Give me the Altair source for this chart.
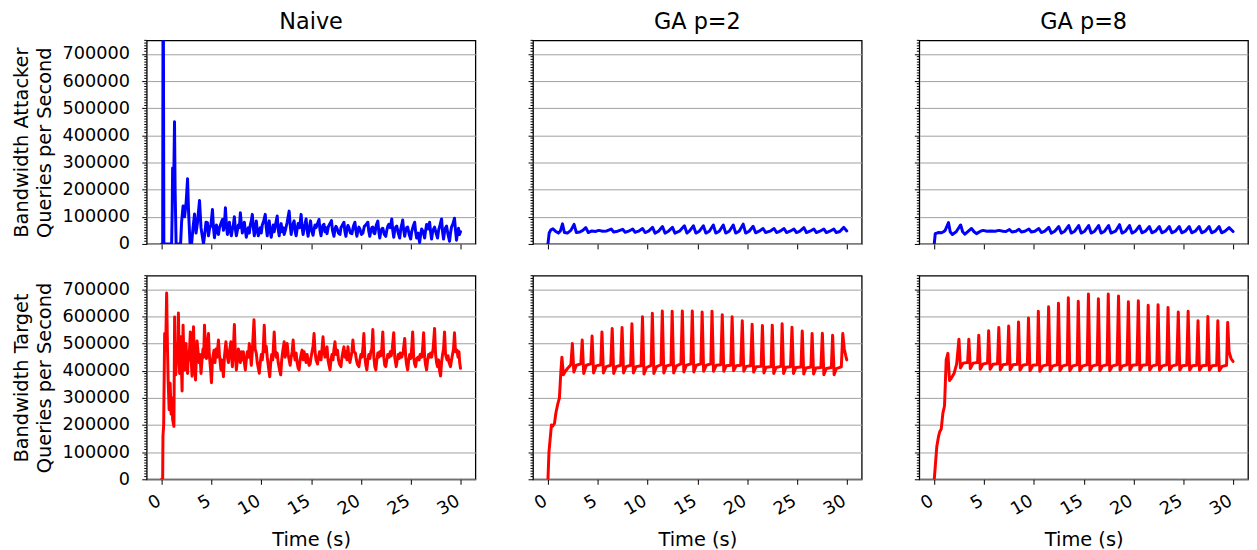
import altair as alt
import pandas as pd

FONT = "DejaVu Sans"
X_TICKS = [0, 5, 10, 15, 20, 25, 30]
Y_MAJOR = [0, 100000, 200000, 300000, 400000, 500000, 600000, 700000]
Y_MINOR = [v for v in range(0, 750001, 10000) if v % 100000 != 0]
COL_TITLES = ["Naive", "GA p=2", "GA p=8"]
ROW_TITLES = [["Bandwidth Attacker", "Queries per Second"],
              ["Bandwidth Target", "Queries per Second"]]
ROW_COLORS = ["#0000ff", "#ff0000"]

# (time s, value in thousands of queries/s)
naive_attacker = [
    (0.0, 0), (0.1, 0), (0.15, 1200), (0.22, 0), (0.6, 0), (1.0, 0), (1.06, 130), (1.1, 280), (1.2, 200),
    (1.29, 450), (1.35, 200), (1.45, 0), (1.9, 0), (2.0, 80), (2.15, 140), (2.3, 100), (2.45, 150),
    (2.6, 240), (2.7, 120), (2.85, 0), (3.0, 0), (3.15, 60), (3.3, 110), (3.45, 40), (3.6, 80),
    (3.8, 160), (3.95, 60), (4.2, 0), (4.35, 45), (4.45, 80), (4.6, 78), (4.7, 30), (4.8, 55),
    (4.95, 70), (5.1, 127), (5.2, 60), (5.3, 23), (5.4, 50), (5.5, 70), (5.6, 45), (5.7, 35),
    (5.8, 60), (5.95, 75), (6.1, 90), (6.2, 50), (6.3, 70), (6.4, 133), (6.5, 70), (6.6, 35),
    (6.7, 60), (6.8, 80), (6.9, 45), (7.0, 30), (7.1, 55), (7.2, 70), (7.3, 100), (7.4, 55),
    (7.5, 30), (7.6, 50), (7.7, 70), (7.8, 60), (7.9, 115), (8.0, 75), (8.1, 40), (8.2, 60),
    (8.3, 80), (8.4, 50), (8.5, 25), (8.6, 45), (8.7, 60), (8.8, 40), (8.9, 70), (9.0, 85),
    (9.1, 109), (9.2, 60), (9.3, 30), (9.4, 55), (9.5, 85), (9.6, 50), (9.7, 30), (9.8, 45),
    (9.9, 60), (10.0, 40), (10.1, 70), (10.25, 85), (10.4, 109), (10.5, 60), (10.6, 30), (10.7, 65),
    (10.8, 85), (10.9, 45), (11.0, 25), (11.1, 50), (11.2, 70), (11.3, 45), (11.45, 75), (11.6, 103),
    (11.7, 55), (11.8, 30), (11.9, 60), (12.0, 75), (12.1, 45), (12.2, 60), (12.3, 35), (12.45, 55),
    (12.6, 80), (12.8, 121), (12.9, 70), (13.0, 35), (13.1, 60), (13.2, 75), (13.3, 85), (13.4, 45),
    (13.5, 30), (13.6, 55), (13.7, 75), (13.85, 60), (14.0, 109), (14.1, 60), (14.2, 35), (14.3, 60),
    (14.4, 75), (14.5, 92), (14.6, 50), (14.7, 28), (14.8, 55), (14.95, 85), (15.05, 50), (15.2, 32),
    (15.3, 55), (15.4, 70), (15.5, 60), (15.65, 75), (15.8, 90), (15.9, 50), (16.0, 30), (16.1, 55),
    (16.2, 70), (16.3, 72), (16.4, 45), (16.5, 60), (16.6, 38), (16.75, 65), (16.9, 75), (17.05, 86),
    (17.15, 50), (17.3, 28), (17.4, 55), (17.5, 65), (17.6, 58), (17.75, 40), (17.9, 35), (18.0, 60),
    (18.15, 70), (18.3, 80), (18.4, 45), (18.5, 28), (18.6, 55), (18.7, 68), (18.8, 60), (18.95, 40),
    (19.1, 38), (19.25, 65), (19.4, 80), (19.5, 50), (19.6, 28), (19.7, 50), (19.8, 62), (19.9, 55),
    (20.05, 35), (20.2, 40), (20.35, 65), (20.5, 70), (20.7, 80), (20.8, 45), (20.9, 28), (21.0, 50),
    (21.1, 60), (21.2, 62), (21.3, 40), (21.4, 38), (21.55, 70), (21.7, 84), (21.8, 45), (21.9, 22),
    (22.0, 45), (22.1, 55), (22.2, 58), (22.35, 35), (22.5, 28), (22.6, 50), (22.7, 65), (22.8, 72),
    (22.95, 60), (23.1, 92), (23.2, 50), (23.3, 25), (23.4, 50), (23.5, 62), (23.6, 66), (23.75, 40),
    (23.9, 22), (24.0, 55), (24.1, 70), (24.2, 88), (24.3, 50), (24.4, 28), (24.5, 50), (24.6, 60),
    (24.7, 62), (24.85, 35), (25.0, 18), (25.1, 45), (25.25, 65), (25.4, 80), (25.5, 45), (25.6, 22),
    (25.75, 40), (25.9, 5), (26.0, 35), (26.1, 55), (26.25, 45), (26.4, 22), (26.5, 50), (26.6, 72),
    (26.75, 55), (26.9, 80), (27.0, 45), (27.1, 18), (27.2, 45), (27.3, 55), (27.4, 62), (27.55, 40),
    (27.7, 22), (27.8, 50), (27.95, 70), (28.1, 92), (28.2, 45), (28.3, 18), (28.4, 45), (28.5, 60),
    (28.6, 66), (28.75, 35), (28.9, 10), (29.0, 40), (29.1, 62), (29.25, 75), (29.4, 95), (29.5, 50),
    (29.6, 14), (29.7, 40), (29.8, 58), (29.9, 35), (30.0, 45),
]

ga2_attacker = [
    (0.0, 0), (0.12, 40), (0.3, 52), (0.5, 56), (0.75, 47), (1.05, 40), (1.25, 48), (1.46, 74),
    (1.65, 42), (1.95, 40), (2.3, 50), (2.62, 72), (2.85, 42), (3.2, 44), (3.5, 50), (3.8, 60),
    (4.05, 42), (4.4, 48), (4.8, 46), (5.1, 50), (5.5, 47), (5.9, 48), (6.35, 55), (6.6, 44),
    (7.0, 47), (7.5, 54), (7.75, 43), (8.1, 47), (8.5, 55), (8.75, 43), (9.1, 47), (9.5, 57),
    (9.75, 42), (10.1, 47), (10.5, 61), (10.75, 40), (11.1, 47), (11.5, 64), (11.75, 40), (12.1, 47),
    (12.5, 61), (12.75, 40), (13.2, 47), (13.7, 67), (13.95, 40), (14.2, 47), (14.6, 67), (14.85, 40),
    (15.2, 47), (15.6, 67), (15.85, 40), (16.2, 47), (16.6, 70), (16.85, 40), (17.2, 47), (17.6, 70),
    (17.85, 40), (18.2, 47), (18.6, 70), (18.85, 40), (19.2, 47), (19.6, 73), (19.85, 40), (20.2, 47),
    (20.6, 65), (20.85, 41), (21.2, 47), (21.6, 57), (21.85, 42), (22.3, 47), (22.7, 57), (22.95, 42),
    (23.3, 47), (23.7, 57), (23.95, 42), (24.3, 47), (24.7, 55), (24.95, 42), (25.3, 47), (25.7, 60),
    (25.95, 42), (26.3, 47), (26.7, 55), (26.95, 42), (27.3, 47), (27.7, 55), (27.95, 42), (28.3, 47),
    (28.7, 55), (28.95, 42), (29.3, 46), (29.7, 61), (30.0, 48),
]

ga8_attacker = [
    (0.0, 0), (0.1, 38), (0.4, 42), (0.7, 41), (0.93, 45), (1.1, 50), (1.43, 79), (1.6, 45),
    (1.82, 35), (2.2, 45), (2.65, 70), (2.85, 45), (3.08, 36), (3.4, 46), (3.74, 57), (4.0, 45),
    (4.24, 38), (4.6, 46), (4.9, 50), (5.3, 47), (5.7, 48), (6.1, 47), (6.5, 50), (6.9, 47),
    (7.2, 46), (7.55, 53), (7.8, 44), (8.2, 47), (8.5, 54), (8.75, 44), (9.1, 47), (9.5, 55),
    (9.75, 44), (10.1, 47), (10.5, 57), (10.75, 42), (11.1, 47), (11.5, 61), (11.75, 40), (12.1, 47),
    (12.5, 64), (12.75, 40), (13.1, 47), (13.5, 68), (13.75, 40), (14.1, 47), (14.5, 68), (14.75, 40),
    (15.1, 47), (15.5, 68), (15.75, 40), (16.1, 47), (16.5, 68), (16.75, 40), (17.1, 47), (17.5, 68),
    (17.75, 40), (18.2, 47), (18.6, 71), (18.85, 40), (19.2, 47), (19.6, 68), (19.85, 40), (20.2, 47),
    (20.6, 66), (20.85, 41), (21.2, 47), (21.6, 64), (21.85, 41), (22.2, 47), (22.6, 64), (22.85, 41),
    (23.2, 47), (23.6, 64), (23.85, 41), (24.2, 47), (24.6, 64), (24.85, 41), (25.2, 47), (25.6, 64),
    (25.85, 41), (26.2, 47), (26.6, 64), (26.85, 41), (27.2, 47), (27.6, 64), (27.85, 41), (28.2, 47),
    (28.6, 64), (28.85, 41), (29.2, 47), (29.6, 60), (30.0, 46),
]

naive_target = [
    (0.0, 0), (0.1, 0), (0.13, 159), (0.2, 200), (0.3, 537), (0.4, 476), (0.5, 686), (0.58, 488),
    (0.65, 366), (0.75, 256), (0.85, 354), (0.95, 240), (1.05, 300), (1.1, 220), (1.23, 195), (1.3, 598),
    (1.36, 420), (1.42, 385), (1.55, 500), (1.62, 440), (1.68, 613), (1.75, 450), (1.8, 390), (1.92, 525),
    (1.98, 420), (2.05, 325), (2.15, 568), (2.22, 460), (2.3, 403), (2.38, 470), (2.45, 500), (2.52, 430),
    (2.6, 390), (2.68, 470), (2.75, 440), (2.88, 543), (2.95, 450), (3.05, 380), (3.12, 480), (3.2, 562),
    (3.28, 430), (3.4, 366), (3.48, 450), (3.55, 510), (3.65, 470), (3.75, 430), (3.85, 460), (3.95, 390),
    (4.05, 440), (4.15, 480), (4.22, 450), (4.3, 568), (4.4, 480), (4.5, 445), (4.6, 500), (4.7, 537),
    (4.78, 460), (4.85, 430), (4.92, 400), (5.0, 356), (5.1, 440), (5.25, 475), (5.35, 430), (5.45, 480),
    (5.55, 450), (5.7, 513), (5.8, 460), (5.95, 403), (6.05, 440), (6.2, 378), (6.3, 450), (6.45, 507),
    (6.55, 460), (6.7, 430), (6.8, 470), (6.95, 507), (7.02, 450), (7.1, 415), (7.2, 480), (7.3, 570),
    (7.4, 460), (7.5, 403), (7.6, 440), (7.7, 480), (7.8, 460), (7.9, 430), (8.0, 470), (8.1, 440),
    (8.2, 470), (8.3, 430), (8.4, 403), (8.5, 440), (8.6, 470), (8.7, 450), (8.8, 500), (8.9, 460),
    (9.0, 420), (9.1, 470), (9.27, 588), (9.38, 480), (9.5, 465), (9.6, 430), (9.7, 410), (9.8, 391),
    (9.9, 430), (10.0, 460), (10.1, 440), (10.2, 480), (10.3, 568), (10.4, 470), (10.5, 490), (10.6, 450),
    (10.7, 420), (10.85, 378), (10.95, 430), (11.05, 460), (11.15, 440), (11.3, 543), (11.4, 470), (11.5, 450),
    (11.6, 465), (11.7, 430), (11.85, 400), (11.95, 385), (12.05, 440), (12.15, 470), (12.3, 507), (12.4, 450),
    (12.5, 480), (12.6, 500), (12.7, 460), (12.8, 440), (12.9, 420), (13.0, 450), (13.1, 470), (13.2, 513),
    (13.3, 460), (13.4, 440), (13.5, 465), (13.6, 430), (13.7, 410), (13.8, 403), (13.9, 440), (14.0, 460),
    (14.1, 476), (14.2, 440), (14.3, 470), (14.4, 450), (14.5, 430), (14.6, 460), (14.7, 440), (14.8, 420),
    (14.9, 425), (15.0, 450), (15.1, 470), (15.2, 490), (15.3, 537), (15.4, 470), (15.5, 440), (15.65, 425),
    (15.75, 450), (15.85, 470), (16.0, 440), (16.1, 480), (16.2, 525), (16.3, 470), (16.4, 450), (16.5, 470),
    (16.6, 488), (16.7, 440), (16.8, 420), (16.9, 403), (17.0, 440), (17.1, 460), (17.2, 440), (17.3, 480),
    (17.4, 507), (17.5, 460), (17.65, 476), (17.75, 440), (17.85, 425), (18.0, 415), (18.1, 450), (18.2, 470),
    (18.3, 488), (18.4, 450), (18.5, 470), (18.6, 440), (18.7, 488), (18.8, 450), (18.9, 430), (19.0, 450),
    (19.1, 470), (19.2, 513), (19.3, 470), (19.45, 465), (19.55, 440), (19.65, 425), (19.8, 415), (19.9, 440),
    (20.0, 460), (20.1, 450), (20.2, 480), (20.3, 537), (20.4, 450), (20.5, 420), (20.6, 403), (20.7, 440),
    (20.8, 460), (20.9, 445), (21.0, 470), (21.1, 480), (21.2, 552), (21.3, 450), (21.4, 415), (21.5, 403),
    (21.6, 440), (21.7, 465), (21.8, 450), (21.9, 470), (22.0, 455), (22.1, 480), (22.2, 543), (22.3, 450),
    (22.4, 420), (22.5, 415), (22.6, 440), (22.7, 460), (22.85, 450), (22.95, 470), (23.05, 455), (23.15, 480),
    (23.3, 540), (23.4, 450), (23.55, 415), (23.65, 440), (23.75, 460), (23.85, 445), (23.95, 465), (24.1, 450),
    (24.25, 470), (24.4, 519), (24.5, 450), (24.6, 420), (24.7, 403), (24.8, 440), (24.9, 460), (25.0, 445),
    (25.1, 480), (25.2, 543), (25.3, 450), (25.4, 425), (25.5, 415), (25.6, 445), (25.75, 450), (25.85, 440),
    (25.95, 460), (26.1, 450), (26.2, 480), (26.3, 540), (26.4, 450), (26.5, 420), (26.6, 403), (26.7, 440),
    (26.8, 460), (26.9, 450), (27.0, 465), (27.1, 450), (27.25, 480), (27.4, 556), (27.5, 460), (27.6, 430),
    (27.7, 415), (27.8, 440), (27.9, 400), (28.0, 381), (28.1, 430), (28.2, 460), (28.3, 480), (28.4, 543),
    (28.5, 460), (28.65, 440), (28.75, 455), (28.85, 430), (29.0, 415), (29.1, 440), (29.2, 460), (29.3, 480),
    (29.4, 540), (29.5, 470), (29.65, 476), (29.75, 450), (29.85, 470), (29.92, 430), (30.0, 409),
]

ga2_target = [
    (0.0, 0), (0.1, 100), (0.35, 200), (0.45, 195), (0.65, 205), (0.8, 245), (1.0, 280), (1.15, 300),
    (1.3, 400), (1.4, 450), (1.55, 385), (1.75, 398), (2.0, 410), (2.3, 422),
    (2.45, 500), (2.6, 395), (2.85, 420), (3.3, 425),
    (3.44, 513), (3.59, 390), (3.85, 420), (4.3, 425),
    (4.43, 528), (4.58, 392), (4.85, 418), (5.3, 422),
    (5.42, 543), (5.57, 392), (5.85, 415), (6.3, 420),
    (6.45, 556), (6.6, 390), (6.85, 415), (7.3, 420),
    (7.44, 559), (7.59, 392), (7.85, 415), (8.3, 420),
    (8.43, 573), (8.58, 392), (8.85, 415), (9.35, 418),
    (9.49, 599), (9.64, 388), (9.9, 412), (10.35, 420),
    (10.48, 612), (10.63, 390), (10.9, 415), (11.35, 422),
    (11.48, 620), (11.63, 392), (11.9, 418), (12.35, 422),
    (12.47, 619), (12.62, 392), (12.9, 418), (13.35, 425),
    (13.49, 620), (13.64, 395), (13.9, 420), (14.35, 425),
    (14.49, 620), (14.64, 395), (14.9, 420), (15.35, 425),
    (15.48, 616), (15.63, 398), (15.9, 420), (16.35, 425),
    (16.47, 619), (16.62, 398), (16.9, 420), (17.35, 422),
    (17.5, 606), (17.65, 398), (17.9, 418), (18.35, 420),
    (18.49, 599), (18.64, 400), (18.9, 418), (19.35, 420),
    (19.51, 584), (19.66, 398), (19.9, 416), (20.35, 418),
    (20.5, 571), (20.65, 395), (20.9, 415), (21.4, 416),
    (21.53, 567), (21.68, 392), (21.9, 413), (22.4, 415),
    (22.52, 568), (22.67, 390), (22.9, 412), (23.4, 416),
    (23.51, 573), (23.66, 390), (23.9, 413), (24.35, 415),
    (24.5, 560), (24.65, 390), (24.9, 412), (25.4, 414),
    (25.53, 546), (25.68, 388), (25.9, 410), (26.4, 414),
    (26.52, 537), (26.67, 388), (26.9, 410), (27.4, 412),
    (27.55, 538), (27.7, 385), (27.95, 408), (28.45, 412),
    (28.58, 531), (28.73, 385), (28.95, 408), (29.45, 414),
    (29.6, 537), (29.75, 480), (29.9, 455), (30.0, 440),
]

ga8_target = [
    (0.0, 0), (0.26, 122), (0.43, 158), (0.55, 175), (0.7, 185), (0.87, 245), (1.03, 270), (1.2, 440),
    (1.37, 464), (1.53, 364), (1.75, 375), (2.0, 391), (2.25, 425),
    (2.48, 516), (2.63, 410), (2.9, 428), (3.35, 430),
    (3.47, 516), (3.62, 408), (3.9, 428), (4.35, 430),
    (4.47, 531), (4.62, 405), (4.9, 425), (5.35, 428),
    (5.46, 547), (5.61, 405), (5.9, 424), (6.35, 426),
    (6.48, 559), (6.63, 403), (6.9, 422), (7.35, 425),
    (7.47, 565), (7.62, 403), (7.9, 422), (8.35, 424),
    (8.46, 580), (8.61, 402), (8.9, 420), (9.35, 424),
    (9.46, 594), (9.61, 400), (9.9, 420), (10.35, 422),
    (10.45, 619), (10.6, 398), (10.9, 418), (11.35, 422),
    (11.48, 636), (11.63, 400), (11.9, 418), (12.35, 422),
    (12.47, 649), (12.62, 400), (12.9, 418), (13.35, 422),
    (13.46, 669), (13.61, 400), (13.9, 418), (14.35, 422),
    (14.46, 656), (14.61, 400), (14.9, 418), (15.35, 422),
    (15.48, 683), (15.63, 400), (15.9, 418), (16.35, 422),
    (16.48, 665), (16.63, 400), (16.9, 418), (17.35, 422),
    (17.47, 683), (17.62, 400), (17.9, 418), (18.35, 422),
    (18.5, 675), (18.65, 402), (18.9, 418), (19.35, 422),
    (19.49, 654), (19.64, 402), (19.9, 420), (20.35, 422),
    (20.49, 658), (20.64, 402), (20.9, 420), (21.35, 422),
    (21.48, 641), (21.63, 402), (21.9, 418), (22.35, 422),
    (22.47, 643), (22.62, 402), (22.9, 418), (23.35, 422),
    (23.47, 633), (23.62, 402), (23.9, 418), (24.35, 422),
    (24.5, 616), (24.65, 402), (24.9, 418), (25.35, 420),
    (25.49, 619), (25.64, 402), (25.9, 418), (26.35, 420),
    (26.48, 584), (26.63, 402), (26.9, 418), (27.35, 420),
    (27.47, 600), (27.62, 402), (27.9, 418), (28.35, 420),
    (28.47, 584), (28.62, 400), (28.9, 416), (29.35, 420),
    (29.46, 578), (29.6, 470), (29.8, 445), (30.0, 434),
]

SERIES = [[naive_attacker, ga2_attacker, ga8_attacker],
          [naive_target, ga2_target, ga8_target]]

X_SCALE = alt.Scale(domain=[-1.5, 31.5], nice=False, zero=False)
Y_SCALE = alt.Scale(domain=[0, 750000], nice=False)
MINOR_DF = pd.DataFrame({"v": Y_MINOR})


def panel(points, row, col):
    df = pd.DataFrame(points, columns=["t", "v"])
    df["v"] = df["v"] * 1000
    bottom = row == 1
    x_axis = alt.Axis(
        values=X_TICKS,
        labels=bottom,
        title="Time (s)" if bottom else None,
        labelAngle=330,
        labelAlign="right",
        labelBaseline="top",
        labelFlush=False,
        labelOverlap=False,
        labelPadding=7.5,
        labelOffset=-7,
        tickSize=5,
        grid=False,
        titlePadding=12,
    )
    y_axis = alt.Axis(
        values=Y_MAJOR,
        labels=(col == 0),
        format="d",
        labelOverlap=False,
        labelFlush=False,
        labelPadding=12.4,
        tickSize=5,
        grid=True,
        title=ROW_TITLES[row] if col == 0 else None,
        titlePadding=7.2,
        titleLineHeight=23.5,
    )
    line = alt.Chart(df).mark_line(
        color=ROW_COLORS[row], strokeWidth=3.0, clip=True, strokeJoin="round", strokeCap="round"
    ).encode(
        x=alt.X("t:Q", scale=X_SCALE, axis=x_axis),
        y=alt.Y("v:Q", scale=Y_SCALE, axis=y_axis),
        order="t:Q",
    )
    minor = alt.Chart(MINOR_DF).mark_rule(color="black", strokeWidth=1).encode(
        y=alt.Y("v:Q", scale=Y_SCALE, axis=y_axis),
        x=alt.value(0),
        x2=alt.value(-2.5),
    )
    ch = alt.layer(line, minor).properties(width=331, height=205)
    if row == 0:
        ch = ch.properties(title=COL_TITLES[col])
    return ch


panels = [panel(SERIES[r][c], r, c) for r in range(2) for c in range(3)]

chart = alt.concat(*panels, columns=3, spacing={"row": 32, "column": 58}, bounds="flush").properties(
    padding={"left": 2.7, "top": 0.7, "right": 0, "bottom": 0}
).configure_view(
    stroke="black", strokeWidth=1.3
).configure_axis(
    labelFont=FONT, labelFontSize=17.8, labelColor="black",
    titleFont=FONT, titleFontSize=19.5, titleFontWeight="normal", titleColor="black",
    tickColor="black", tickWidth=1, domain=False,
    gridColor="#a0a0a0", gridWidth=1,
).configure_title(
    font=FONT, fontSize=22.5, fontWeight="normal", color="black", anchor="middle", offset=6.15,
    baseline="alphabetic",
)

chart.save("out.html", embed_options={"renderer": "svg", "actions": False})
